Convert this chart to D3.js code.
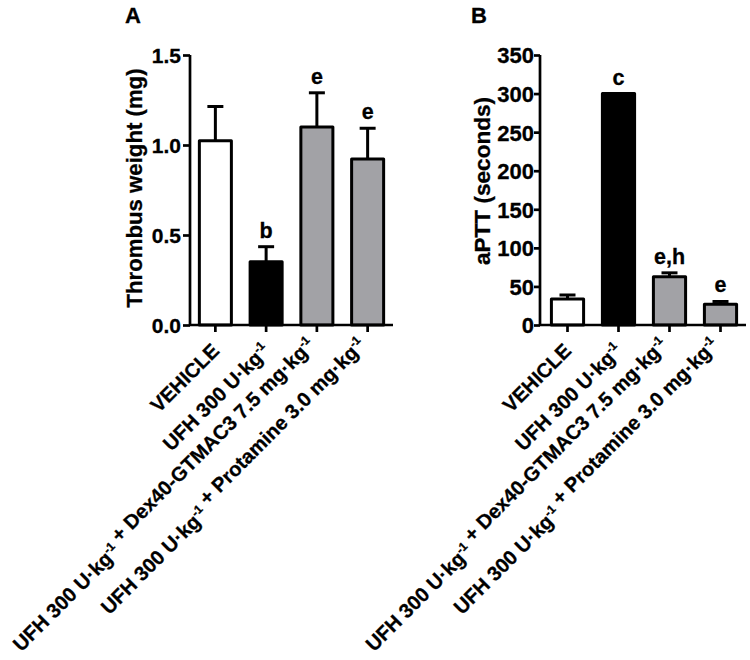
<!DOCTYPE html>
<html>
<head>
<meta charset="utf-8">
<script src="https://cdn.jsdelivr.net/npm/d3@7"></script>
<style>
  html, body { margin: 0; padding: 0; background: #fff; }
  svg { display: block; }
  text { font-family: "Liberation Sans", Arial, Helvetica, sans-serif; font-weight: bold; fill: #000; stroke: #000; stroke-width: 0.3px; }
</style>
</head>
<body>
<svg id="chart" width="750" height="660"></svg>
<script>
// ---------------- data ----------------
const categories = [
  "VEHICLE",
  "UFH 300 U·kg^-1",
  "UFH 300 U·kg^-1 + Dex40-GTMAC3 7.5 mg·kg^-1",
  "UFH 300 U·kg^-1 + Protamine 3.0 mg·kg^-1"
];
const barFills = ["#ffffff", "#000000", "#a2a2a6", "#a2a2a6"];

const thrombusMean = [1.024, 0.352, 1.10, 0.922];
const thrombusErr  = [0.19, 0.083, 0.19, 0.171];
const thrombusSig  = ["", "b", "e", "e"];
const thrombusTicks = [0, 0.5, 1.0, 1.5];

const apttMean = [33.7, 300, 62.6, 27.0];
const apttErr  = [5.2, 0, 5.0, 3.5];
const apttSig  = ["", "c", "e,h", "e"];
const apttTicks = [0, 50, 100, 150, 200, 250, 300, 350];

// ---------------- drawing ----------------
const svg = d3.select("#chart");

function drawLabel(sel, label) {
  const parts = label.split("^-1");
  parts.forEach((p, i) => {
    if (p.length) sel.append("tspan").text(p);
    if (i < parts.length - 1) {
      sel.append("tspan").attr("font-size", 12).attr("dy", -8).text("-1");
      sel.append("tspan").attr("dy", 8).text("");
    }
  });
}

function panel(opts) {
  const g = svg.append("g");
  const y = d3.scaleLinear().domain(opts.domain).range([325, 55]);
  const x = d3.scaleBand().domain(categories).range([opts.bx0, opts.x1])
    .paddingInner(0.31).paddingOuter(0.155);
  const bw = x.bandwidth();

  const bars = g.selectAll("g.bar").data(categories).enter().append("g");
  bars.append("rect")
    .attr("x", d => x(d) + 1.5)
    .attr("width", bw - 3)
    .attr("y", (d, i) => y(opts.mean[i]))
    .attr("height", (d, i) => y(0) - y(opts.mean[i]))
    .attr("fill", (d, i) => barFills[i])
    .attr("stroke", "#000").attr("stroke-width", 3)
    .attr("stroke-linejoin", "round");

  bars.filter((d, i) => opts.err[i] > 0).each(function(d) {
    const i = categories.indexOf(d);
    const cx = x(d) + bw / 2;
    const top = y(opts.mean[i] + opts.err[i]);
    const sel = d3.select(this);
    sel.append("line").attr("x1", cx).attr("x2", cx)
      .attr("y1", y(opts.mean[i])).attr("y2", top)
      .attr("stroke", "#000").attr("stroke-width", 3);
    sel.append("line").attr("x1", cx - 8).attr("x2", cx + 8)
      .attr("y1", top).attr("y2", top)
      .attr("stroke", "#000").attr("stroke-width", 3);
  });

  bars.append("text")
    .attr("x", d => x(d) + bw / 2)
    .attr("y", (d, i) => y(opts.mean[i] + opts.err[i]) - 9)
    .attr("text-anchor", "middle")
    .attr("font-size", 21.5)
    .text((d, i) => opts.sig[i]);

  const yAxis = d3.axisLeft(y).tickValues(opts.ticks).tickSize(opts.tickLen).tickPadding(opts.tickPad)
    .tickFormat(opts.fmt);
  const ya = g.append("g").attr("transform", `translate(${opts.x0},0)`).call(yAxis);
  ya.select(".domain").attr("d", "M0,55V325").attr("stroke-width", 2.7);
  ya.selectAll(".tick line").attr("stroke-width", 2.7);
  ya.selectAll(".tick text").attr("font-size", opts.tickFont)
    .style("font-family", "'Liberation Sans', Arial, sans-serif").style("font-weight", "bold")
    .attr("dy", "0.36em");

  const xAxis = d3.axisBottom(x).tickSize(7).tickFormat("");
  const xa = g.append("g").attr("transform", "translate(0,325)").call(xAxis);
  xa.select(".domain").attr("d", `M${opts.x0},0H${opts.x1}`).attr("stroke-width", 2.7);
  xa.selectAll(".tick line").attr("stroke-width", 2.7);

  categories.forEach((c, i) => {
    const cx = x(c) + bw / 2;
    const t = g.append("text")
      .attr("transform", `translate(${cx + 5},352) rotate(-45)`)
      .attr("text-anchor", "end")
      .attr("font-size", 20.1);
    drawLabel(t, c);
  });

  g.append("text")
    .attr("transform", `translate(${opts.titleX},${opts.titleY}) rotate(-90)`)
    .attr("text-anchor", "middle")
    .attr("font-size", opts.titleFont)
    .text(opts.title);

  g.append("text").attr("x", opts.letterX).attr("y", 23)
    .attr("font-size", 22).text(opts.letter);
}

panel({
  x0: 190, bx0: 190, x1: 393, domain: [0, 1.5], ticks: thrombusTicks, fmt: d3.format(".1f"),
  mean: thrombusMean, err: thrombusErr, sig: thrombusSig, tickFont: 21, tickLen: 7, tickPad: 2,
  title: "Thrombus weight (mg)", titleFont: 22.2, titleX: 142, titleY: 188, letter: "A", letterX: 125
});
panel({
  x0: 540, bx0: 542, x1: 746, domain: [0, 350], ticks: apttTicks, fmt: d3.format("d"),
  mean: apttMean, err: apttErr, sig: apttSig, tickFont: 22, tickLen: 6, tickPad: 0,
  title: "aPTT (seconds)", titleFont: 22.6, titleX: 490, titleY: 181, letter: "B", letterX: 471
});
</script>
</body>
</html>
